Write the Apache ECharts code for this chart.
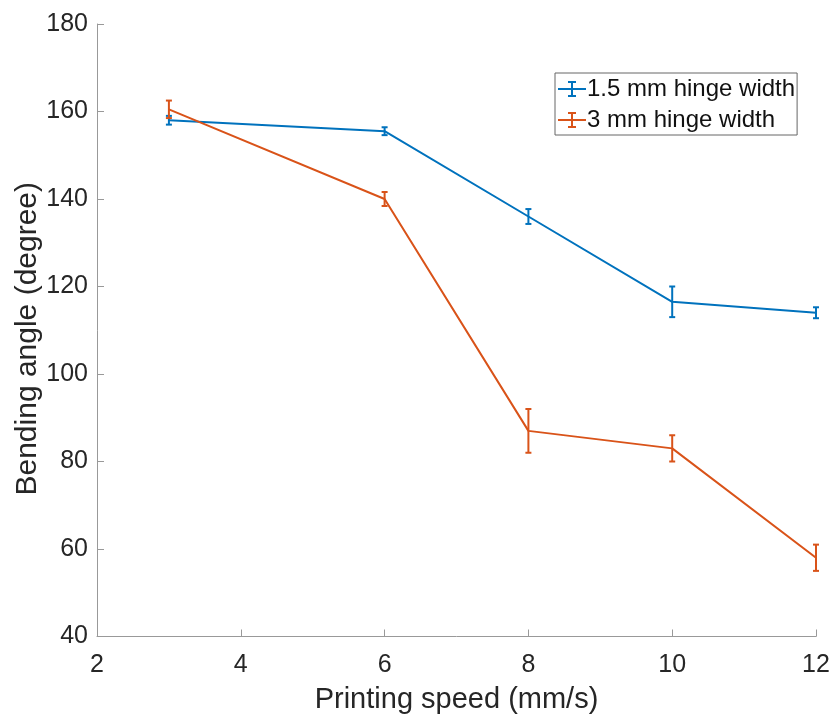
<!DOCTYPE html>
<html>
<head>
<meta charset="utf-8">
<script src="https://cdn.jsdelivr.net/npm/echarts@6/dist/echarts.min.js"></script>
<style>
  html, body { margin: 0; padding: 0; background: #fff; }
  #chart { width: 833px; height: 715px; }
</style>
</head>
<body>
<div id="chart"></div>
<script>
// Printing speed (mm/s)
const speeds = [3, 6, 8, 10, 12];
// Bending angle (degree), mean values
const angle15 = [158, 155.5, 136, 116.5, 114];
const angle3 = [160.5, 140, 87, 83, 58];
// Error (± half-length of each bar)
const err15 = [1, 0.9, 1.7, 3.5, 1.25];
const err3 = [2, 1.6, 5, 3, 3];

const blue = '#0072BD';
const orange = '#D95319';
const fontFamily = '"Liberation Sans", Arial, Helvetica, sans-serif';

function lineData(ys) { return speeds.map((x, i) => [x, ys[i]]); }
function barData(ys, es) { return speeds.map((x, i) => [x, ys[i] - es[i], ys[i] + es[i]]); }

function errorBarItem(color) {
  return function (params, api) {
    const x = api.value(0);
    const lo = api.coord([x, api.value(1)]);
    const hi = api.coord([x, api.value(2)]);
    const w = 3;
    const style = { stroke: color, lineWidth: 2 };
    return {
      type: 'group',
      children: [
        { type: 'line', shape: { x1: lo[0], y1: lo[1], x2: hi[0], y2: hi[1] }, style },
        { type: 'line', shape: { x1: lo[0] - w, y1: lo[1], x2: lo[0] + w, y2: lo[1] }, style },
        { type: 'line', shape: { x1: hi[0] - w, y1: hi[1], x2: hi[0] + w, y2: hi[1] }, style }
      ]
    };
  };
}

const legendIcon = 'path://M0,9L28,9L28,11L0,11Z M13,3L15,3L15,17L13,17Z M10,2L18,2L18,4L10,4Z M10,16L18,16L18,18L10,18Z';

const chart = echarts.init(document.getElementById('chart'));
chart.setOption({
  animation: false,
  backgroundColor: '#fff',
  textStyle: { fontFamily },
  grid: { left: 97, right: 17, top: 24, bottom: 78.5, containLabel: false, outerBoundsMode: 'none' },
  legend: {
    orient: 'vertical',
    left: 555,
    top: 73,
    padding: [4, 2, 3, 3],
    itemGap: 7,
    itemWidth: 28,
    itemHeight: 20,
    borderColor: '#666',
    borderWidth: 1,
    backgroundColor: '#fff',
    textStyle: { fontSize: 24, color: '#111', fontFamily, padding: [0, 0, 0, -4] },
    data: [
      { name: '1.5 mm hinge width', icon: legendIcon },
      { name: '3 mm hinge width', icon: legendIcon }
    ]
  },
  xAxis: {
    type: 'value',
    min: 2, max: 12, interval: 2,
    name: 'Printing speed (mm/s)',
    nameLocation: 'middle',
    nameGap: 49,
    nameTextStyle: { fontSize: 29, color: '#262626', fontFamily },
    axisLine: { lineStyle: { color: '#999', width: 1 } },
    axisTick: { inside: true, length: 7, lineStyle: { color: '#999' } },
    axisLabel: { fontSize: 25, color: '#262626', margin: 16, fontFamily },
    splitLine: { show: false }
  },
  yAxis: {
    type: 'value',
    min: 40, max: 180, interval: 20,
    name: 'Bending angle (degree)',
    nameLocation: 'middle',
    nameGap: 54,
    nameMoveOverlap: false,
    nameTextStyle: { fontSize: 30, color: '#262626', fontFamily, padding: [0, 17, 0, 0] },
    axisLine: { show: true, lineStyle: { color: '#999', width: 1 } },
    axisTick: { show: true, inside: true, length: 7, lineStyle: { color: '#999' } },
    axisLabel: { fontSize: 25, color: '#262626', margin: 9, fontFamily },
    splitLine: { show: false }
  },
  series: [
    {
      name: '1.5 mm hinge width',
      type: 'line',
      data: lineData(angle15),
      symbol: 'none',
      color: blue,
      lineStyle: { color: blue, width: 2 },
      z: 3
    },
    {
      name: '3 mm hinge width',
      type: 'line',
      data: lineData(angle3),
      symbol: 'none',
      color: orange,
      lineStyle: { color: orange, width: 2 },
      z: 3
    },
    {
      name: '1.5 mm hinge width',
      type: 'custom',
      data: barData(angle15, err15),
      renderItem: errorBarItem(blue),
      color: blue,
      z: 4
    },
    {
      name: '3 mm hinge width',
      type: 'custom',
      data: barData(angle3, err3),
      renderItem: errorBarItem(orange),
      color: orange,
      z: 4
    }
  ]
});
</script>
</body>
</html>
